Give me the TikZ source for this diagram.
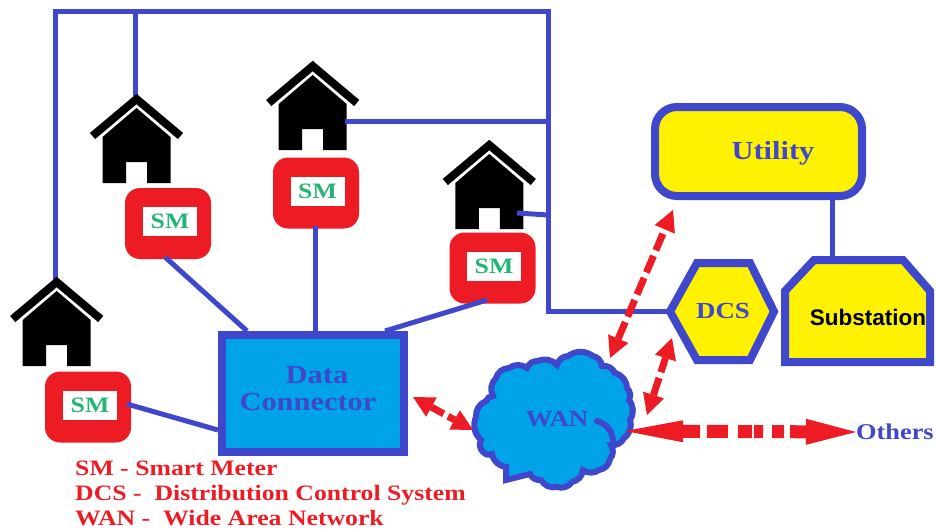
\documentclass[tikz,border=0pt]{standalone}
\usepackage{fontspec}
\setmainfont[FakeStretch=1.17]{Liberation Serif}
\newfontfamily\arialfont{Liberation Sans}
\usetikzlibrary{arrows.meta}
\definecolor{wireblue}{HTML}{3F48CC}
\definecolor{smred}{HTML}{ED1C24}
\definecolor{smgreen}{HTML}{22B573}
\definecolor{netcyan}{HTML}{00A2E8}
\definecolor{boxyellow}{HTML}{FFF200}
\tikzset{
    wire/.style={wireblue,line width=5pt},
    smbox/.style={fill=smred,rounded corners=15pt,minimum width=86pt,minimum height=71pt,inner sep=0pt},
    smtag/.style={fill=white,text=smgreen,minimum width=54pt,minimum height=29pt,inner sep=0pt,font=\bfseries\fontsize{22}{24}\selectfont},
    bluetext/.style={text=wireblue,font=\bfseries\fontsize{23}{25}\selectfont},
    bigtext/.style={text=wireblue,font=\bfseries\fontsize{26}{28}\selectfont},
    redlink/.style={smred,line width=7pt,dash pattern=on 18pt off 6pt,{Triangle[length=21pt,width=22pt,line width=0pt]}-{Triangle[length=21pt,width=22pt,line width=0pt]}},
    house/.pic={
        \draw[black,line width=8pt] (-44,42) -- (0,5) -- (44,42);
        \fill[black] (-34,89) -- (-34,43) -- (0,14) -- (34,43) -- (34,89) -- (10.5,89)
            -- (10.5,68) -- (-10.5,68) -- (-10.5,89) -- cycle;
    }
}
\begin{document}
\begin{tikzpicture}[x=1pt,y=-1pt]
    \useasboundingbox (0,0) rectangle (936,531);

    % wiring behind the houses
    \coordinate (FL) at (55,278);
    \coordinate (FT) at (135,96);
    \coordinate (FH2) at (345,121);
    \coordinate (FH3) at (517,213);
    \coordinate (FR3) at (548,215);
    \draw[wire,line cap=rect] (FL) -- (55,11) -- (548,11) -- (548,311) -- (668,311);
    \draw[wire] (135,11) -- (FT);

    \pic at (136.5,94) {house};
    \pic at (312.7,61) {house};
    \pic at (489.3,140) {house};
    \pic at (56.7,277) {house};
    \draw[wire] (FH2) -- (548,121);
    \draw[wire] (FH3) -- (FR3);

    \node[smbox] (SM1) at (168,223.5) {};
    \node[smbox] (SM2) at (316,193) {};
    \node[smbox] (SM3) at (492.5,268) {};
    \node[smbox] (SM4) at (88,407) {};
    \node[smtag] (T1) at (170,221.5) {SM};
    \node[smtag] (T2) at (317.5,191.5) {SM};
    \node[smtag] (T3) at (494,266.5) {SM};
    \node[smtag] (T4) at (90,405) {SM};

    \node[draw=wireblue,line width=8pt,fill=netcyan,minimum width=182pt,minimum height=117pt,
        inner sep=0pt] (DC) at (313,393.5) {};
    \node[bigtext] (DL1) at (317,375) {Data};
    \node[bigtext] (DL2) at (308,402) {Connector};
    \draw[wire] (165,257) -- (247,331);
    \draw[wire] (SM2.south) ++(-1,-3) -- (315,331);
    \draw[wire] (487,300) -- (385,331);
    \draw[wire] (127,404) -- (DC.west |- 0,430);

    % utility side
    \node[draw=wireblue,line width=8pt,fill=boxyellow,rounded corners=22pt,minimum width=207pt,
        minimum height=89pt,inner sep=0pt] (UT) at (758.5,151.5) {};
    \node[bigtext] (UL) at (773,153) {Utility};
    \draw[wireblue,line width=8pt,fill=boxyellow] (785,362) -- (785,291) -- (814,260) -- (903,260)
        -- (930,291) -- (930,362) -- cycle;
    \node[font=\arialfont\bfseries\fontsize{22.5}{24}\selectfont] (SL) at (868,317) {Substation};
    \coordinate (UB) at (832,200);
    \coordinate (SB) at (832,262);
    \draw[wire] (UB) -- (SB);

    \draw[wireblue,line width=8pt,fill=boxyellow,line join=miter] (670,311.5) -- (697,263) -- (750,263)
        -- (774,311.5) -- (750,360) -- (697,360) -- cycle;
    \node[bluetext] (DCS) at (723,311) {DCS};

    % cloud
    \draw[wireblue,line width=6pt,fill=netcyan,every to/.style={bend left=35}]
        (476,417) to (486,401) to (493,396) to (496,378) to (509,368) to (527,368) to (538,361)
        to (557,365) to (568,356) to (593,356) to (602,366) to (615,373) to (627,388) to (629,400)
        to (630,420) to (624,438) to (611,445) to (610,459) to (599,470) to (583,470) to (572,482)
        to (557,487) to (541,480) to (530,474) -- (506,480) -- (506,467) to (492,454) to (483,452)
        to (481,440) to cycle;
    \draw[wireblue,line width=6pt,line cap=round] (597,421) to[bend left=35] (613,441);
    \node[bluetext] (WAN) at (557,419) {WAN};

    % links
    \coordinate (A1) at (413,397);
    \coordinate (A2) at (473,430);
    \coordinate (B1) at (610,358);
    \coordinate (B2) at (673,210);
    \coordinate (C1) at (647,415);
    \coordinate (C2) at (672,338);
    \coordinate (D1) at (625,431);
    \node[text=wireblue,font=\bfseries\fontsize{22.5}{24}\selectfont,anchor=west,inner sep=0pt] (OT) at (856,432) {Others};
    \draw[redlink,dash pattern=on 14pt off 5pt] (A1) -- (A2);
    \draw[redlink] (B1) -- (B2);
    \draw[redlink] (C1) -- (C2);
    \draw[smred,line width=13pt,dash pattern=on 17pt off 7pt on 21pt off 10pt on 14pt off 2pt on 9pt off 9pt on 12pt off 6pt on 30pt,
        {Triangle[length=58pt,width=22pt,line width=0pt]}-{Triangle[length=50pt,width=26pt,line width=0pt]}] (D1) -- (OT.west);

    \node[anchor=north west,align=left,inner sep=0pt,text=smred,font=\bfseries\fontsize{22}{25}\selectfont] (LG) at (75,461)
        {SM - Smart Meter\\DCS -\ \ Distribution Control System\\WAN -\ \ Wide Area Network};
\end{tikzpicture}
\end{document}
